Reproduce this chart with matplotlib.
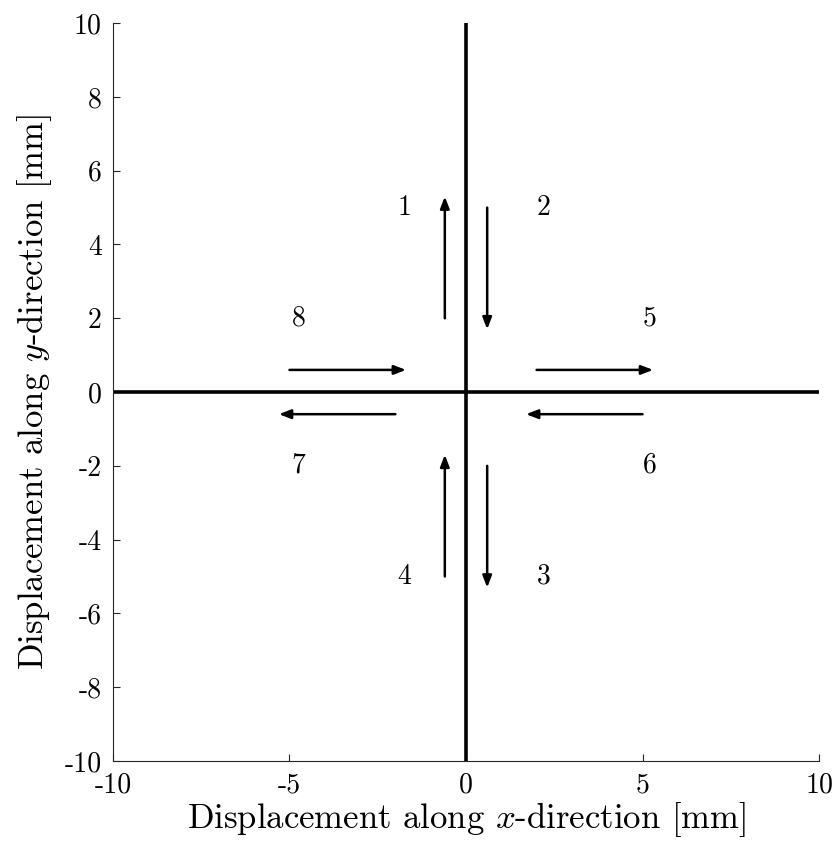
import numpy as np
import matplotlib
matplotlib.use("Agg")
import matplotlib.pyplot as plt

plt.rcParams["font.family"] = "serif"
plt.rcParams["font.serif"] = ["cmr10"]
plt.rcParams["mathtext.fontset"] = "cm"
plt.rcParams["axes.unicode_minus"] = False
plt.rcParams["axes.formatter.use_mathtext"] = False

# arrow start points and displacements (mm)
x0 = [-0.6, 0.6, 0.6, -0.6, 2.0, 5.0, -2.0, -5.0]
y0 = [2.0, 5.0, -2.0, -5.0, 0.6, -0.6, -0.6, 0.6]
dx = [0.0, 0.0, 0.0, 0.0, 3.3, -3.3, -3.3, 3.3]
dy = [3.3, -3.3, -3.3, 3.3, 0.0, 0.0, 0.0, 0.0]

# label positions
labels = ["1", "2", "3", "4", "5", "6", "7", "8"]
lx = [-1.75, 2.2, 2.2, -1.75, 5.2, 5.2, -4.75, -4.75]
ly = [5.0, 5.0, -5.0, -5.0, 2.0, -2.0, -2.0, 2.0]

xticks = [-10, -5, 0, 5, 10]
yticks = [-10, -8, -6, -4, -2, 0, 2, 4, 6, 8, 10]

fig = plt.figure(figsize=(8.37, 8.56), dpi=100)
ax = fig.add_axes([0.135, 0.111, 0.8435, 0.862])

ax.axhline(0, color="black", lw=2.6, zorder=2)
ax.axvline(0, color="black", lw=2.6, zorder=2)

for i in range(len(x0)):
    ax.annotate("", xy=(x0[i] + dx[i], y0[i] + dy[i]), xytext=(x0[i], y0[i]),
                arrowprops=dict(arrowstyle="-|>,head_length=0.7,head_width=0.27",
                                color="black", lw=1.8, shrinkA=0, shrinkB=0),
                zorder=3)
for t, xx, yy in zip(labels, lx, ly):
    ax.text(xx, yy, t, fontsize=20, ha="center", va="center")

ax.set_xlim(-10, 10)
ax.set_ylim(-10, 10)
ax.set_xticks(xticks)
ax.set_yticks(yticks)
ax.set_xticklabels([str(v) for v in xticks])
ax.set_yticklabels([str(v) for v in yticks])
ax.tick_params(direction="in", length=5, width=0.8, labelsize=20, colors="#262626",
               labelcolor="black", pad=8)
for s in ["top", "right"]:
    ax.spines[s].set_visible(False)
for s in ["left", "bottom"]:
    ax.spines[s].set_color("#262626")
    ax.spines[s].set_linewidth(0.8)

ax.set_xlabel(r"Displacement along $x$-direction [mm]", fontsize=25, labelpad=1)
ax.set_ylabel(r"Displacement along $y$-direction [mm]", fontsize=25, labelpad=8)

fig.savefig("out.png", dpi=100)
